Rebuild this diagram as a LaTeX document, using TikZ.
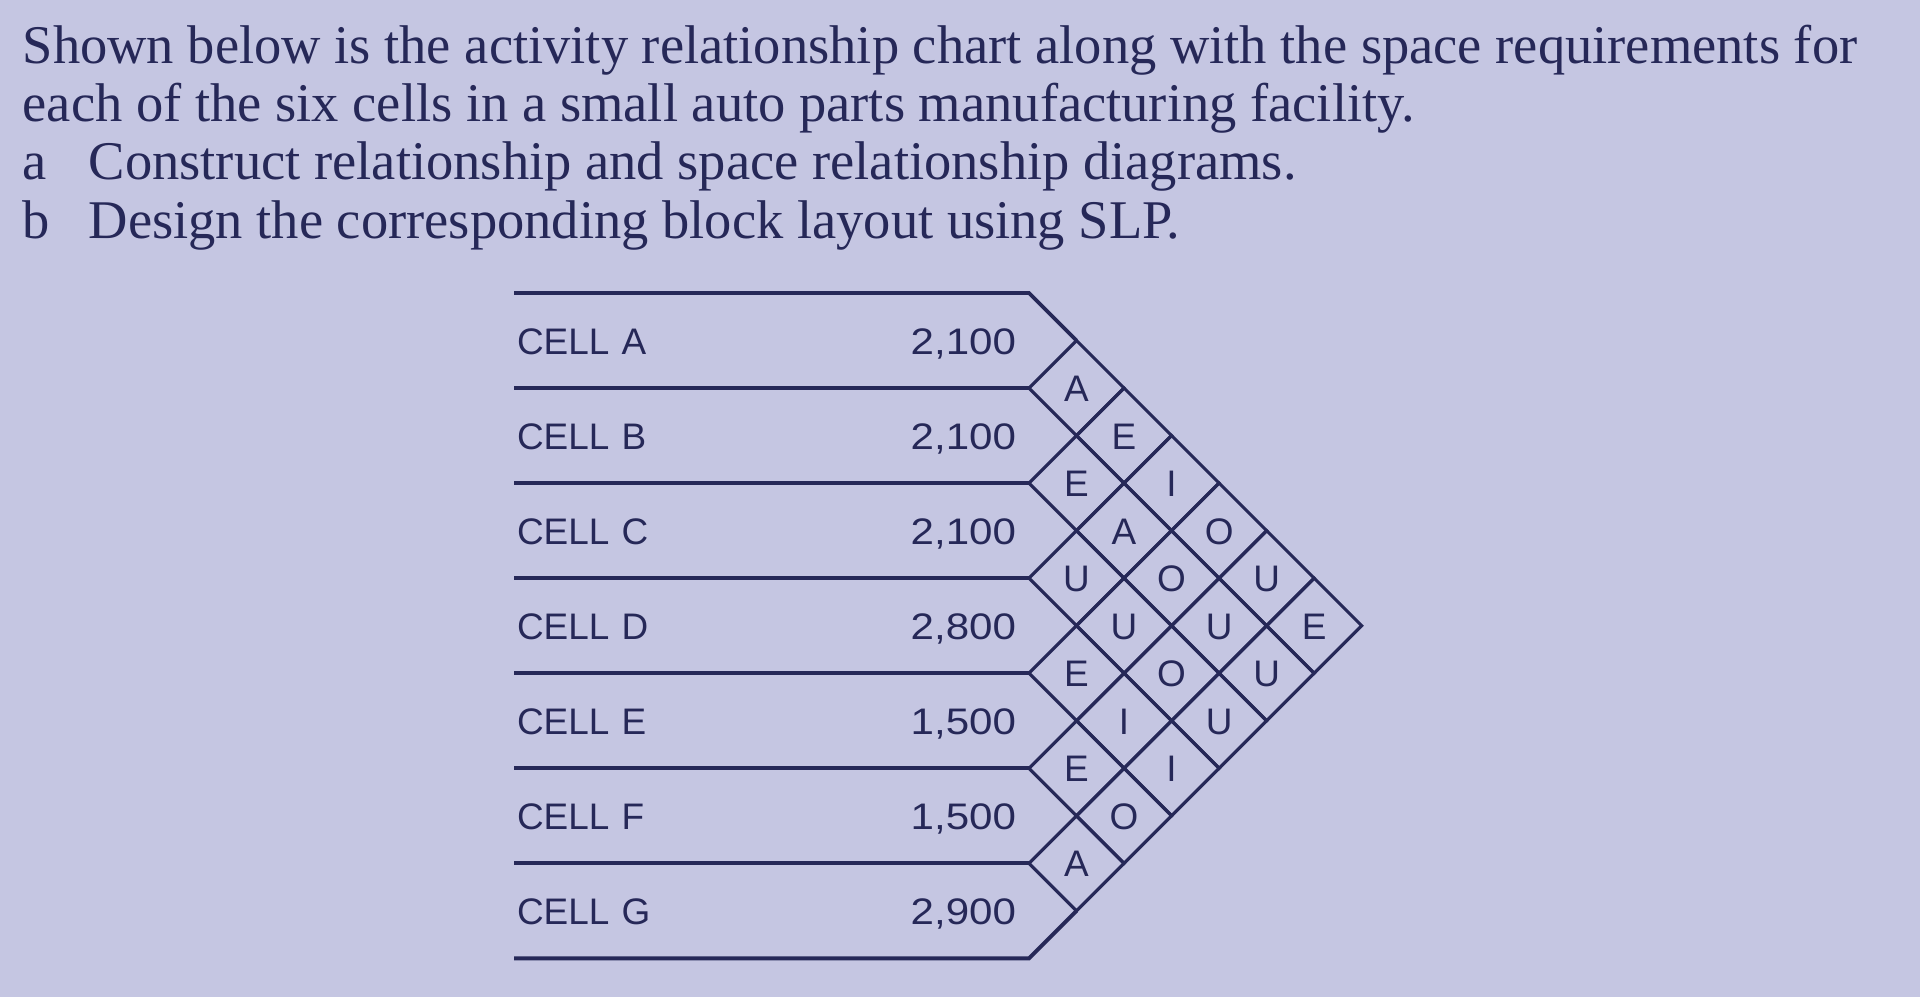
\documentclass[tikz,border=0pt]{standalone}
\usepackage{fontspec}
\setmainfont{Liberation Serif}
\newfontfamily\chartfont{Liberation Sans}
\newfontfamily\figfont[FakeStretch=1.14]{Liberation Sans}
\usetikzlibrary{positioning}
\usetikzlibrary{shapes.geometric}
\definecolor{paper}{HTML}{C5C6E2}
\definecolor{ink}{HTML}{262858}
\tikzset{
     head/.style={
           anchor=base west,
           inner sep=0pt,
           text=ink,
           font=\fontsize{15.5pt}{18pt}\selectfont,
           },
     cell/.style={
           text width=4cm,
           align=left,
           minimum height=0.95cm,
           inner xsep=0.03cm,
           inner ysep=0pt,
           outer sep=0pt,
           text height=0.27cm,
           text depth=0pt,
           text=ink,
           font=\chartfont\fontsize{10.5pt}{12pt}\selectfont,
           },
     area/.style={
           cell,
           text width=2cm,
           align=right,
           inner xsep=0pt,
           font=\figfont\fontsize{10.5pt}{12pt}\selectfont,
           },
     rel/.style={
           diamond,
           draw=ink, line width=0.9pt,
           minimum width=0.95cm,
           minimum height=0.95cm,
           inner sep=0pt,
           outer sep=0pt,
           text height=0.27cm,
           text depth=0pt,
           text=ink,
           font=\chartfont\fontsize{10.5pt}{12pt}\selectfont,
           },
     rule/.style={
           draw=ink, line width=1.1pt,
           },
}

\begin{document}
\begin{tikzpicture}[x=0.01cm, y=-0.01cm]
	\fill[paper] (0,0) rectangle (1920,997);
	\useasboundingbox (0,0) rectangle (1920,997);

	\node[head] (t1) at (22,64) {Shown below is the activity relationship chart along with the space requirements for};
	\node[head] (t2) at (22,122) {each of the six cells in a small auto parts manufacturing facility.};
	\node[head] (la) at (22,180) {a};
	\node[head] (qa) at (88,180) {Construct relationship and space relationship diagrams.};
	\node[head] (lb) at (22,239) {b};
	\node[head] (qb) at (88,239) {Design the corresponding block layout using SLP.};

	%cells and space
	\node[cell, anchor=north west] (ca) at (514,293) {CELL A};
	\node[cell, below=0pt of ca] (cb) {CELL B};
	\node[cell, below=0pt of cb] (cc) {CELL C};
	\node[cell, below=0pt of cc] (cd) {CELL D};
	\node[cell, below=0pt of cd] (ce) {CELL E};
	\node[cell, below=0pt of ce] (cf) {CELL F};
	\node[cell, below=0pt of cf] (cg) {CELL G};

	\node[area, anchor=north east] (va) at (1016,293) {2,100};
	\node[area, below=0pt of va] (vb) {2,100};
	\node[area, below=0pt of vb] (vc) {2,100};
	\node[area, below=0pt of vc] (vd) {2,800};
	\node[area, below=0pt of vd] (ve) {1,500};
	\node[area, below=0pt of ve] (vf) {1,500};
	\node[area, below=0pt of vf] (vg) {2,900};

	%relationship diamonds
	\coordinate (rim) at (1029,293);
	\node[rel, anchor=west] (ab) at (ca.south west -| rim) {A};
	\node[rel, below=0pt of ab] (bc) {E};
	\node[rel, below=0pt of bc] (cdr) {U};
	\node[rel, below=0pt of cdr] (de) {E};
	\node[rel, below=0pt of de] (ef) {E};
	\node[rel, below=0pt of ef] (fg) {A};

	\node[rel, below right=0pt of ab] (ac) {E};
	\node[rel, below=0pt of ac] (bd) {A};
	\node[rel, below=0pt of bd] (cer) {U};
	\node[rel, below=0pt of cer] (df) {I};
	\node[rel, below=0pt of df] (eg) {O};

	\node[rel, below right=0pt of ac] (ad) {I};
	\node[rel, below=0pt of ad] (be) {O};
	\node[rel, below=0pt of be] (cfr) {O};
	\node[rel, below=0pt of cfr] (dg) {I};

	\node[rel, below right=0pt of ad] (ae) {O};
	\node[rel, below=0pt of ae] (bf) {U};
	\node[rel, below=0pt of bf] (cgr) {U};

	\node[rel, below right=0pt of ae] (af) {U};
	\node[rel, below=0pt of af] (bg) {U};

	\node[rel, below right=0pt of af] (ag) {E};

	%RULES
	\draw[rule] (ca.north west) -- (ca.north west -| ab.west) -- (ab.north);
	\path[rule]	(ca.south west) edge (ab.west)
				(cb.south west) edge (bc.west)
				(cc.south west) edge (cdr.west)
				(cd.south west) edge (de.west)
				(ce.south west) edge (ef.west)
				(cf.south west) edge (fg.west);
	\draw[rule] (cg.south west) -- (cg.south west -| fg.west) -- (fg.south);

\end{tikzpicture}
\end{document}
